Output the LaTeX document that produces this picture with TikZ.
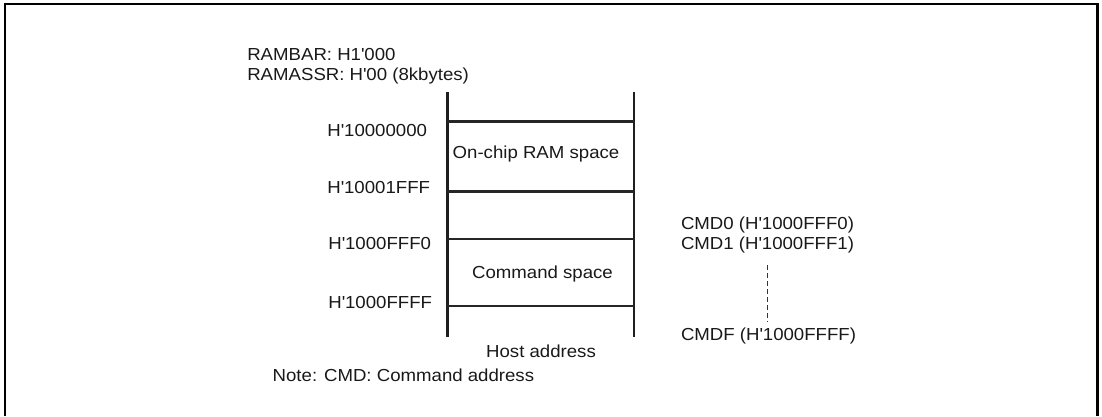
\documentclass[tikz,border=0pt]{standalone}
\usepackage{fontspec}
\setmainfont[FakeStretch=1.07]{Liberation Sans}
\newcommand{\qt}{\textquotesingle}
\begin{document}
\begin{tikzpicture}[x=1pt,y=-1pt,
  txt/.style={inner sep=0pt,outer sep=0pt,text=black!90,font=\fontsize{17.4}{20}\selectfont},
  colline/.style={line width=2.9pt,draw=black!88},
  rowline/.style={line width=2.4pt,draw=black!85},
  frameline/.style={line width=2.4pt,draw=black},
  dotline/.style={line width=1pt,draw=black!80,dash pattern=on 5pt off 3pt}]
\useasboundingbox (0,0) rectangle (1102,416);
% outer frame (bottom edge lies outside the picture)
\draw[frameline] (5,416) -- (5,4) -- (1097.5,4) -- (1097.5,416);
% column
\coordinate (LT) at (447.3,92);
\coordinate (LB) at (447.3,337);
\coordinate (RT) at (634,92);
\coordinate (RB) at (634,337);
\draw[colline] (LT) -- (LB);
\draw[colline] (RT) -- (RB);
\coordinate (a1) at (447.3,121.3); \coordinate (b1) at (634,121.3);
\coordinate (a2) at (447.3,191.3); \coordinate (b2) at (634,191.3);
\coordinate (a3) at (447.3,238.7); \coordinate (b3) at (634,238.7);
\coordinate (a4) at (447.3,306);   \coordinate (b4) at (634,306);
\draw[rowline] (a1) -- (b1);
\draw[rowline] (a2) -- (b2);
\draw[rowline] (a3) -- (b3);
\draw[rowline] (a4) -- (b4);
% header texts
\node[txt,anchor=base west] (rambar) at (247.3,60.7) {RAMBAR: H1\qt000};
\node[txt,anchor=base west] (ramassr) at (247.3,80) {RAMASSR: H\qt00 (8kbytes)};
% address labels
\node[txt,anchor=base east] (ad1) at (427,136) {H\qt10000000};
\node[txt,anchor=base east] (ad2) at (430,193) {H\qt10001FFF};
\node[txt,anchor=base east] (ad3) at (431,249) {H\qt1000FFF0};
\node[txt,anchor=base east] (ad4) at (432,308) {H\qt1000FFFF};
% space names
\node[txt,anchor=base] (ram) at (536,158.5) {On-chip RAM space};
\node[txt,anchor=base] (cmdsp) at (542.5,278) {Command space};
\node[txt,anchor=base] (host) at (541,357.5) {Host address};
\node[txt,anchor=base west] (note) at (272.7,381.5) {Note: CMD: Command address};
% command addresses
\node[txt,anchor=base west] (cmd0) at (681,229) {CMD0 (H\qt1000FFF0)};
\node[txt,anchor=base west] (cmd1) at (681,249.3) {CMD1 (H\qt1000FFF1)};
\node[txt,anchor=base west] (cmdf) at (681,340.7) {CMDF (H\qt1000FFFF)};
\coordinate (dtop) at (767.3,265);
\coordinate (dbot) at (767.3,322);
\draw[dotline] (dtop) -- (dbot);
\end{tikzpicture}
\end{document}
